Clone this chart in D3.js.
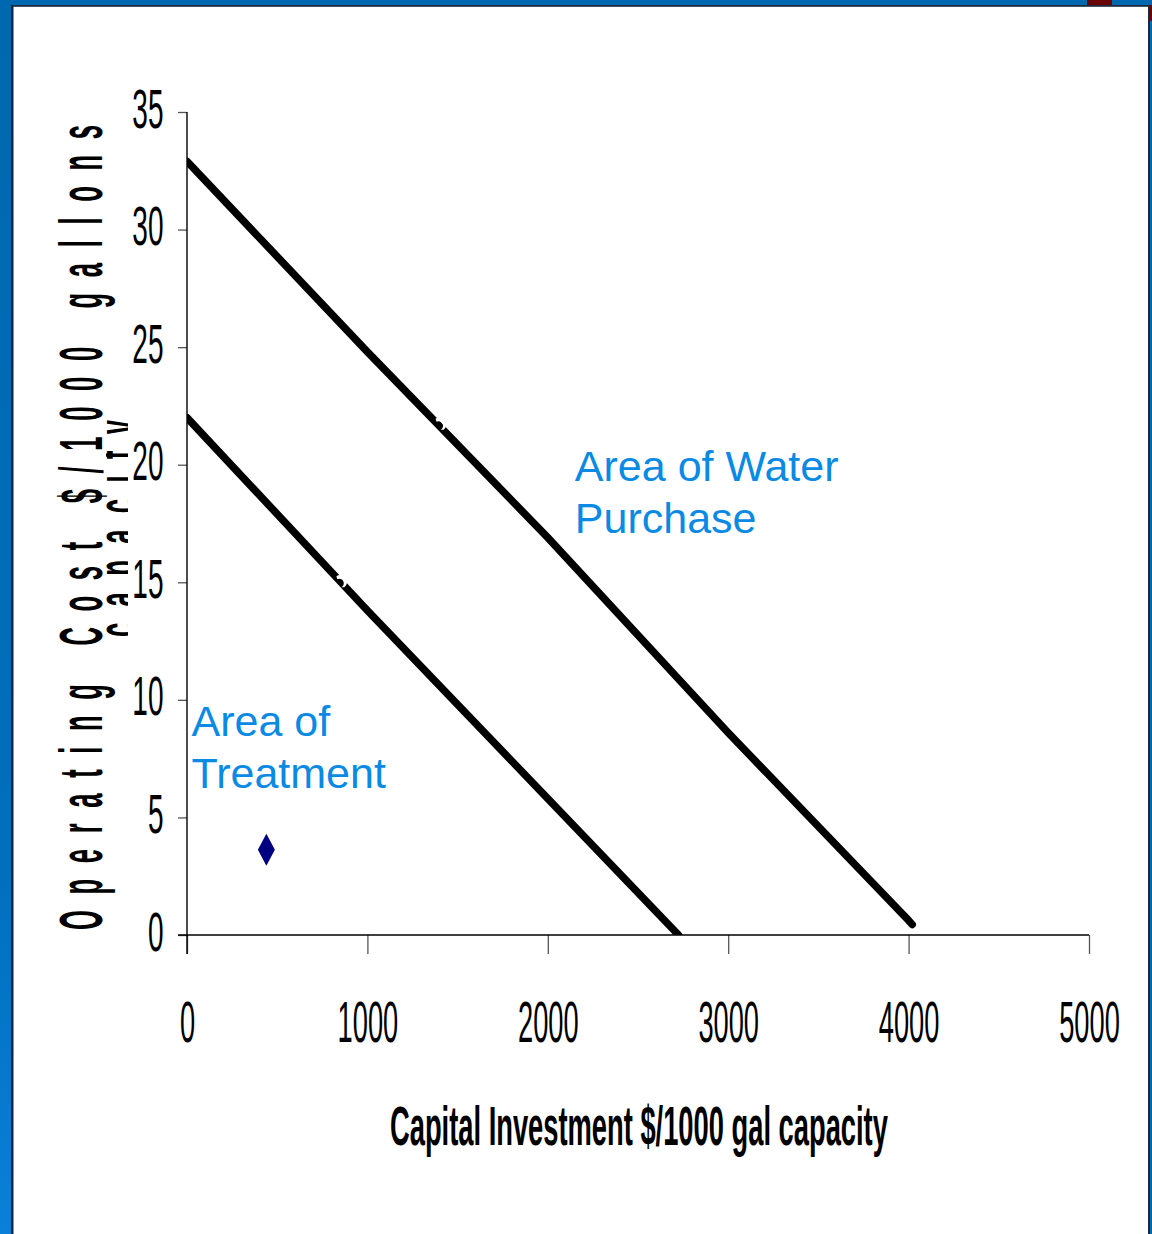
<!DOCTYPE html>
<html>
<head>
<meta charset="utf-8">
<script src="https://cdn.jsdelivr.net/npm/d3@7"></script>
<style>
  html, body { margin: 0; padding: 0; background: #fff; }
  svg { display: block; }
</style>
</head>
<body>
<svg id="chart" width="1152" height="1234"></svg>
<script>
// Break-even boundaries between treating water and buying it
const xTicks = [0, 1000, 2000, 3000, 4000, 5000];
const yTicks = [0, 5, 10, 15, 20, 25, 30, 35];

// Upper boundary (water purchase side)
const purchaseX = [0, 1000, 2000, 3000, 4000, 4020];
const purchaseY = [32.9, 24.8, 16.9, 8.6, 0.62, 0.45];

// Lower boundary (treatment side)
const treatX = [0, 1000, 2000, 2725];
const treatY = [22.0, 13.8, 5.8, 0.0];

// Hidden-series markers sitting on the boundaries
const markerX = [1400, 850];
const markerY = [21.7, 15.0];

// The plant being evaluated
const plantX = [440];
const plantY = [3.63];

const regionLabels = [
  { lines: ["Area of Water", "Purchase"], x: 2150, y: 19.32 },
  { lines: ["Area of", "Treatment"], x: 25, y: 8.46 }
];

const xTitle = "Capital Investment $/1000 gal capacity";
const yTitle1 = "Operating Cost $/1000 gallons";
const yTitle2 = "capacity";

const svg = d3.select("#chart");
const W = 1152, H = 1234;

// Slide frame
const defs = svg.append("defs");
const grad = defs.append("linearGradient").attr("id", "sideBlue")
  .attr("x1", 0).attr("y1", 0).attr("x2", 0).attr("y2", 1);
grad.append("stop").attr("offset", "0%").attr("stop-color", "#0068ae");
grad.append("stop").attr("offset", "70%").attr("stop-color", "#006fbd");
grad.append("stop").attr("offset", "100%").attr("stop-color", "#0a80d8");

svg.append("rect").attr("width", W).attr("height", H).attr("fill", "#ffffff");
svg.append("rect").attr("x", 0).attr("y", 0).attr("width", 12).attr("height", H).attr("fill", "url(#sideBlue)");
svg.append("rect").attr("x", 11).attr("y", 5).attr("width", 2.5).attr("height", H).attr("fill", "#0e2444");
svg.append("rect").attr("x", 0).attr("y", 0).attr("width", W).attr("height", 5).attr("fill", "#0068b0");
svg.append("rect").attr("x", 11).attr("y", 5).attr("width", W - 11).attr("height", 1.8).attr("fill", "#1b2a3c");
svg.append("rect").attr("x", 1148).attr("y", 5).attr("width", 2).attr("height", H).attr("fill", "#1b2a3c");
svg.append("rect").attr("x", 1150).attr("y", 0).attr("width", 2).attr("height", H).attr("fill", "#0068b0");
svg.append("rect").attr("x", 1087).attr("y", 0).attr("width", 25).attr("height", 5).attr("fill", "#6a0303");
svg.append("rect").attr("x", 1149).attr("y", 5).attr("width", 3).attr("height", 16).attr("fill", "#6a0303");

// Scales
const x = d3.scaleLinear().domain([0, 5000]).range([187, 1089]);
const y = d3.scaleLinear().domain([0, 35]).range([935, 112]);

const FONT = "'Liberation Sans', Arial, Helvetica, sans-serif";

// X axis ticks and labels
const xAxis = d3.axisBottom(x).tickValues(xTicks).tickSize(19).tickSizeOuter(0).tickFormat(d3.format("d"));
const gx = svg.append("g").attr("transform", `translate(0,${y(0)})`).call(xAxis);
gx.select(".domain").remove();
gx.selectAll(".tick line").attr("stroke", "#555").attr("stroke-width", 1.3);
gx.selectAll(".tick text")
  .attr("y", 107).attr("dy", null)
  .attr("font-family", FONT).attr("font-size", 58).attr("fill", "#000")
  .attr("transform", "scale(0.47,1)");

// Y axis ticks and labels
const yAxis = d3.axisLeft(y).tickValues(yTicks).tickSize(9).tickSizeOuter(0).tickFormat(d3.format("d"));
const gy = svg.append("g").attr("transform", `translate(${x(0)},0)`).call(yAxis);
gy.select(".domain").remove();
gy.selectAll(".tick line").attr("stroke", "#555").attr("stroke-width", 1.3);
gy.selectAll(".tick text")
  .attr("x", -47).attr("dy", null).attr("y", 15)
  .attr("text-anchor", "end")
  .attr("font-family", FONT).attr("font-size", 56).attr("fill", "#000")
  .attr("transform", "scale(0.5,1)");

// Axis lines
svg.append("line").attr("x1", 178).attr("x2", x(5000)).attr("y1", y(0)).attr("y2", y(0))
  .attr("stroke", "#000").attr("stroke-width", 1.4);
svg.append("line").attr("x1", x(0)).attr("x2", x(0)).attr("y1", y(35)).attr("y2", y(0) + 19)
  .attr("stroke", "#000").attr("stroke-width", 1.4);

// Boundary lines, clipped to the plot area
defs.append("clipPath").attr("id", "plotClip").append("rect")
  .attr("x", x(0)).attr("y", y(35) - 10).attr("width", x(5000) - x(0) + 10).attr("height", y(0) - y(35) + 10);

const line = d3.line().x(d => x(d[0])).y(d => y(d[1]));
const lines = [d3.zip(purchaseX, purchaseY), d3.zip(treatX, treatY)];
svg.append("g").attr("clip-path", "url(#plotClip)")
  .selectAll("path").data(lines).join("path")
  .attr("d", line)
  .attr("fill", "none")
  .attr("stroke", "#000")
  .attr("stroke-width", 7.5)
  .attr("stroke-linejoin", "round")
  .attr("stroke-linecap", "round");

// White markers on the boundaries
svg.append("g").selectAll("path").data(d3.zip(markerX, markerY)).join("path")
  .attr("transform", d => `translate(${x(d[0])},${y(d[1])})`)
  .attr("d", "M-4,-6A6,6 0 0 1 4,5L1,5A4,4 0 0 0 -3,-3Z")
  .attr("fill", "#fff");

// Plant marker (tall diamond)
svg.append("g").selectAll("path").data(d3.zip(plantX, plantY)).join("path")
  .attr("transform", d => `translate(${x(d[0])},${y(d[1])})`)
  .attr("d", "M0,-16L8.5,0L0,16L-8.5,0Z")
  .attr("fill", "#000080");

// Region labels
regionLabels.forEach(lbl => {
  const t = svg.append("text")
    .attr("x", x(lbl.x)).attr("y", y(lbl.y))
    .attr("font-family", FONT).attr("font-size", 43).attr("fill", "#0b8ae4");
  lbl.lines.forEach((s, i) => {
    t.append("tspan").attr("x", x(lbl.x)).attr("dy", i === 0 ? 0 : 52).text(s);
  });
});

// X axis title, condensed to its printed width
const xt = svg.append("text")
  .attr("font-family", FONT).attr("font-weight", "bold").attr("font-size", 56)
  .attr("fill", "#000")
  .text(xTitle);
const xtw = xt.node().getComputedTextLength();
xt.attr("transform", `translate(390,1145) scale(${498 / xtw},1)`);

// Y axis title (two lines, second mostly hidden)
svg.append("text")
  .attr("transform", "translate(102,527.5) rotate(-90) scale(0.42,1)")
  .attr("text-anchor", "middle")
  .attr("font-family", FONT).attr("font-weight", "bold").attr("font-size", 61)
  .attr("textLength", 1917).attr("lengthAdjust", "spacing")
  .attr("fill", "#000")
  .text(yTitle1);

defs.append("clipPath").attr("id", "titleClip").append("rect")
  .attr("x", 106).attr("y", 300).attr("width", 22).attr("height", 450);
svg.append("g").attr("clip-path", "url(#titleClip)")
  .append("text")
  .attr("transform", "translate(139,528.5) rotate(-90) scale(0.42,1)")
  .attr("text-anchor", "middle")
  .attr("font-family", FONT).attr("font-weight", "bold").attr("font-size", 61)
  .attr("textLength", 517).attr("lengthAdjust", "spacing")
  .attr("fill", "#000")
  .text(yTitle2);
</script>
</body>
</html>
